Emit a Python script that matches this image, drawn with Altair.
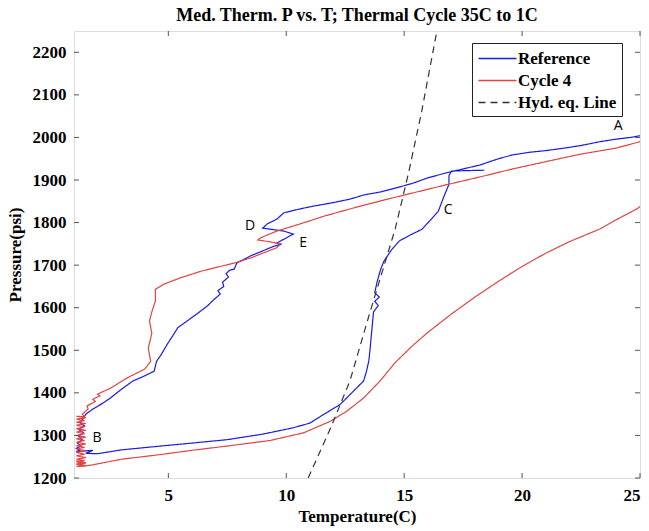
import altair as alt
import pandas as pd

# ---------------- data ----------------
ref_T = [25.0, 24.6, 24.0, 23.3, 22.5, 21.8, 21.0, 20.3, 19.6, 19.0, 18.2, 17.5, 16.8, 16.0, 15.4,
         14.7, 14.0, 13.3, 12.7, 12.0, 11.5, 11.0, 10.5, 9.9, 9.6, 9.2, 9.0,
         9.5, 9.9, 10.3, 9.9, 9.6, 9.8, 9.5, 9.2, 8.5, 7.9, 7.8, 7.6, 7.45, 7.55, 7.3, 7.35, 7.1,
         7.2, 6.95, 6.65, 6.2, 5.8, 5.4, 5.2, 4.95, 4.7, 4.5, 4.4, 4.0, 3.5, 3.0, 2.55, 2.2, 1.8,
         1.5, 1.4, 1.25, 1.45, 1.2, 1.4, 1.2, 1.35, 1.15, 1.3, 1.1, 1.25, 1.1,
         1.8, 1.5, 2.0, 3.0, 4.66, 6.0, 7.49, 9.0, 10.3, 11.0, 11.58, 12.29, 12.85, 13.28,
         13.4, 13.5, 13.55, 13.6, 13.65, 13.7, 13.9, 13.75, 13.95, 13.75, 13.85, 14.0, 14.15,
         14.45, 14.8, 15.3, 15.75, 16.1, 16.45, 16.67, 16.9, 16.9, 17.0, 17.6, 18.4]
ref_P = [2004, 2000, 1996, 1990, 1981, 1975, 1969, 1965, 1959, 1950, 1935, 1926, 1917, 1905, 1893,
         1882, 1872, 1865, 1855, 1847, 1842, 1837, 1831, 1823, 1808, 1797, 1787,
         1783, 1780, 1773, 1761, 1752, 1749, 1745, 1738, 1722, 1705, 1691, 1688, 1680, 1672, 1660, 1650, 1640,
         1632, 1620, 1604, 1585, 1569, 1553, 1535, 1514, 1490, 1474, 1451, 1440, 1428, 1408, 1388, 1375, 1362,
         1350, 1340, 1330, 1322, 1314, 1306, 1298, 1290, 1282, 1275, 1270, 1266, 1262,
         1265, 1258, 1257, 1266, 1275, 1282, 1290, 1303, 1318, 1329, 1349, 1373, 1404, 1428,
         1450, 1475, 1500, 1530, 1560, 1590, 1605, 1615, 1625, 1635, 1660, 1690, 1710,
         1735, 1757, 1772, 1784, 1805, 1827, 1859, 1890, 1910, 1921, 1922, 1923]

c4_T = [25.0, 24.0, 22.5, 21.0, 19.6, 18.2, 16.8, 15.4, 14.0, 12.7, 11.6, 10.6, 9.6, 8.9, 8.8,
        9.3, 9.75, 9.6, 9.0, 8.5, 7.8, 6.4, 5.5, 4.8, 4.45, 4.45, 4.3, 4.2, 4.3, 4.15, 4.25, 4.0,
        3.25, 2.55, 2.0, 2.1, 1.8, 1.9, 1.55, 1.6, 1.35, 1.45,
        1.1, 1.5, 1.1, 1.45, 1.1, 1.5, 1.1, 1.45, 1.1, 1.5, 1.1, 1.45, 1.1, 1.5, 1.1, 1.45,
        1.1, 1.5, 1.1, 1.45, 1.1, 1.5, 1.1, 1.45, 1.1, 1.5, 1.1, 1.45, 1.1, 1.5, 1.1, 1.45,
        1.1, 1.5, 1.1, 1.45, 1.1, 1.5, 1.1, 1.45,
        1.8, 3.0, 4.66, 6.0, 7.49, 9.3, 10.73, 11.86, 12.57, 13.28, 13.98, 14.6, 15.3, 16.0, 17.0,
        18.0, 19.0, 20.0, 21.0, 22.0, 23.3, 23.9, 24.9, 25.0]
c4_P = [1990, 1975, 1961, 1943, 1926, 1907, 1889, 1870, 1851, 1832, 1815, 1797, 1780, 1764, 1759,
        1755, 1750, 1741, 1728, 1717, 1705, 1686, 1670, 1655, 1643, 1616, 1590, 1569, 1540, 1505, 1474, 1456,
        1435, 1411, 1397, 1393, 1385, 1380, 1369, 1362, 1350, 1344,
        1345, 1342, 1338, 1335, 1331, 1328, 1324, 1320, 1316, 1312, 1308, 1304, 1300, 1296, 1292, 1288,
        1284, 1280, 1276, 1272, 1268, 1264, 1260, 1256, 1252, 1248, 1244, 1241, 1238, 1235, 1232, 1229,
        1240, 1236, 1233, 1230, 1232, 1229, 1227, 1228,
        1231, 1244, 1255, 1265, 1275, 1288, 1306, 1333, 1357, 1388, 1428, 1470, 1508, 1542, 1585,
        1625, 1662, 1697, 1728, 1755, 1785, 1804, 1833, 1838]

hyd_T = [10.93, 11.9, 12.7, 13.5, 14.1, 14.62, 15.2, 15.75, 16.39]
hyd_P = [1200, 1320, 1428, 1580, 1690, 1785, 1920, 2063, 2251]

labels = ["A", "B", "C", "D", "E"]
label_T = [24.07, 1.98, 16.87, 8.47, 10.72]
label_P = [2028, 1294, 1830, 1792, 1753]

x_ticks = [5, 10, 15, 20, 25]
y_ticks = [1200, 1300, 1400, 1500, 1600, 1700, 1800, 1900, 2000, 2100, 2200]

series_names = ["Reference", "Cycle 4", "Hyd. eq. Line"]
series_colors = ["#1a1ae0", "#e04444", "#333333"]

# ---------------- build tables ----------------
rows = []
for name, ts, ps in [("Reference", ref_T, ref_P), ("Cycle 4", c4_T, c4_P), ("Hyd. eq. Line", hyd_T, hyd_P)]:
    for i, (t, p) in enumerate(zip(ts, ps)):
        rows.append({"series": name, "T": t, "P": p, "i": i})
lines_df = pd.DataFrame(rows)
lab_df = pd.DataFrame({"label": labels, "T": label_T, "P": label_P})
xt_df = pd.DataFrame({"T": x_ticks})
yt_df = pd.DataFrame({"P": y_ticks})

W, H = 566, 447
SERIF = "Liberation Serif"

xscale = alt.Scale(domain=[1, 25], nice=False, zero=False)
yscale = alt.Scale(domain=[1200, 2250], nice=False, zero=False)

x_axis = alt.Axis(values=x_ticks, format="d", title="Temperature(C)", grid=False, domain=False, ticks=False,
                  labelFont=SERIF, labelFontWeight="bold", labelFontSize=17, labelColor="black",
                  labelPadding=9, titleFont=SERIF, titleFontWeight="bold", titleFontSize=17,
                  titleColor="black", titlePadding=5)
y_axis = alt.Axis(values=y_ticks, format="d", title="Pressure(psi)", grid=False, domain=False, ticks=False,
                  labelFont=SERIF, labelFontWeight="bold", labelFontSize=17, labelColor="black",
                  labelPadding=8, titleFont=SERIF, titleFontWeight="bold", titleFontSize=17,
                  titleColor="black", titlePadding=8)

lines = alt.Chart(lines_df).mark_line(strokeWidth=1.2, clip=True).encode(
    x=alt.X("T:Q", scale=xscale, axis=x_axis),
    y=alt.Y("P:Q", scale=yscale, axis=y_axis),
    color=alt.Color("series:N", scale=alt.Scale(domain=series_names, range=series_colors),
                    legend=alt.Legend(orient="none", legendX=398, legendY=12, title=None,
                                      symbolType="M-2,0H2", symbolSize=361, symbolStrokeWidth=1.5,
                                      symbolOffset=10,
                                      labelFont=SERIF, labelFontWeight="bold", labelFontSize=17,
                                      labelColor="black", labelOffset=10, rowPadding=3,
                                      strokeColor="#222222", fillColor="white", padding=5)),
    strokeDash=alt.StrokeDash("series:N", scale=alt.Scale(domain=series_names,
                                                          range=[[1, 0], [1, 0], [7, 5]])),
    order=alt.Order("i:Q"),
)

texts = alt.Chart(lab_df).mark_text(font="Open Sans", fontSize=14, color="black").encode(
    x=alt.X("T:Q", scale=xscale), y=alt.Y("P:Q", scale=yscale), text="label:N")

tick_color = "#555555"
xt_bottom = alt.Chart(xt_df).mark_rule(color=tick_color).encode(
    x=alt.X("T:Q", scale=xscale), y=alt.value(H), y2=alt.value(H - 5))
xt_top = alt.Chart(xt_df).mark_rule(color=tick_color).encode(
    x=alt.X("T:Q", scale=xscale), y=alt.value(0), y2=alt.value(5))
yt_left = alt.Chart(yt_df).mark_rule(color=tick_color).encode(
    y=alt.Y("P:Q", scale=yscale), x=alt.value(0), x2=alt.value(5))
yt_right = alt.Chart(yt_df).mark_rule(color=tick_color).encode(
    y=alt.Y("P:Q", scale=yscale), x=alt.value(W), x2=alt.value(W - 5))

chart = alt.layer(lines, texts, xt_bottom, xt_top, yt_left, yt_right).properties(
    width=W, height=H,
    padding={"left": 74, "top": 31, "right": 9, "bottom": 53},
    autosize=alt.AutoSizeParams(type="none"),
    title=alt.TitleParams("Med. Therm. P vs. T; Thermal Cycle 35C to 1C", font=SERIF,
                          fontWeight="bold", fontSize=18, color="black", anchor="middle", offset=6),
).configure_view(stroke="#555555", strokeWidth=1.2).configure(background="white")

chart.save("out.html", embed_options={"renderer": "svg", "actions": False})
